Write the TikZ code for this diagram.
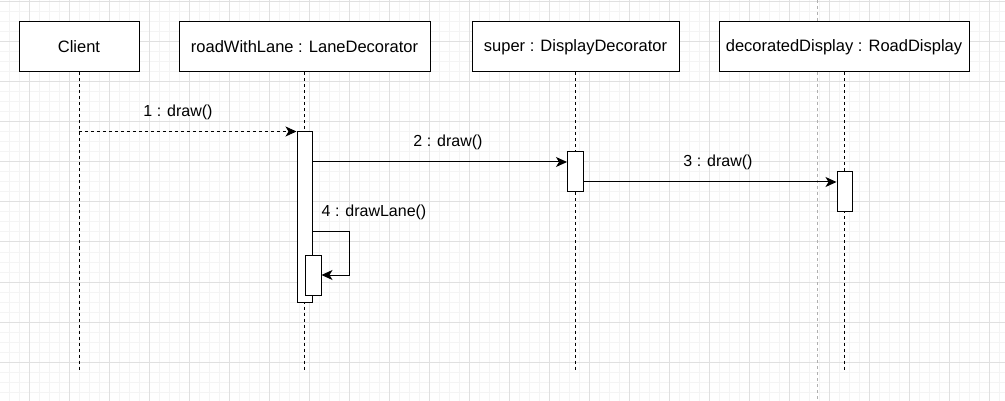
\documentclass[tikz,border=0pt]{standalone}
\usepackage{fontspec}
\setmainfont{Liberation Sans}
\usepackage{tikz}
\usetikzlibrary{arrows.meta}

\definecolor{gridminor}{HTML}{F4F4F4}
\definecolor{gridmajor}{HTML}{E0E0E0}
\definecolor{guidegray}{HTML}{B0B0B0}

\begin{document}
\begin{tikzpicture}[x=1pt,y=-1pt,
    objbox/.style={draw=black,line width=1pt,fill=white,minimum height=50,
      inner sep=0pt,font=\fontsize{16.5}{19}\selectfont},
    actbox/.style={draw=black,line width=1pt,fill=white,minimum width=15,inner sep=0pt},
    lifeline/.style={draw=black,line width=1pt,dash pattern=on 3pt off 3pt},
    msg/.style={draw=black,line width=1pt,-{Stealth[length=11pt,width=10pt,inset=3pt]}},
    lbl/.style={font=\fontsize{16}{19}\selectfont,inner sep=1pt}]
      \useasboundingbox (0,0) rectangle (1005,401);
      \fill[white] (0,0) rectangle (1005,401);

      % grid
      \foreach \gx in {-1,9,...,1009} \draw[gridminor,line width=1pt] (\gx,0) -- (\gx,401);
      \foreach \gy in {2,12,...,402} \draw[gridminor,line width=1pt] (0,\gy) -- (1005,\gy);
      \foreach \gx in {29,69,...,989} \draw[gridmajor,line width=1pt] (\gx,0) -- (\gx,401);
      \foreach \gy in {2,42,...,362} \draw[gridmajor,line width=1pt] (0,\gy) -- (1005,\gy);
      \draw[guidegray,line width=1pt,dash pattern=on 3pt off 3pt] (817,0) -- (817,401);

      % objects
      \node[objbox,minimum width=120] (client) at (79,47) {Client};
      \node[objbox,minimum width=251] (lane) at (304.5,47) {roadWithLane : LaneDecorator};
      \node[objbox,minimum width=207] (super) at (575.5,47) {super : DisplayDecorator};
      \node[objbox,minimum width=250] (road) at (844,47) {decoratedDisplay : RoadDisplay};

      \coordinate (clientend) at (79,370);
      \coordinate (laneend) at (304.5,371);
      \coordinate (superend) at (575.5,370);
      \coordinate (roadend) at (844,370);

      \draw[lifeline] (client.south) -- (clientend);
      \draw[lifeline] (lane.south) -- (laneend);
      \draw[lifeline] (super.south) -- (superend);
      \draw[lifeline] (road.south) -- (roadend);

      % activations
      \node[actbox,minimum height=170] (laneact) at (304.5,217) {};
      \node[actbox,minimum width=16,minimum height=40] (drawact) at (313,275) {};
      \node[actbox,minimum width=16,minimum height=40] (superact) at (575.5,172) {};
      \node[actbox,minimum height=40] (roadact) at (844.5,192) {};

      % messages
      \coordinate (m2) at (575,162);
      \coordinate (m3) at (844,182);
      \coordinate (loop) at (349,232);

      \draw[msg,dash pattern=on 3pt off 3pt] (client |- laneact.north west) -- (laneact.north west);
      \draw[msg] (laneact.east |- m2) -- (superact.west |- m2);
      \draw[msg] (superact.east |- m3) -- (roadact.west |- m3);
      \draw[msg] (laneact.east |- loop) -- (loop) |- (drawact.east);

      \node[lbl] (msg1) at (178,112) {1 : draw()};
      \node[lbl] (msg2) at (448,142) {2 : draw()};
      \node[lbl] (msg3) at (718,162) {3 : draw()};
      \node[lbl] (msg4) at (374,212) {4 : drawLane()};
    \end{tikzpicture}
\end{document}
